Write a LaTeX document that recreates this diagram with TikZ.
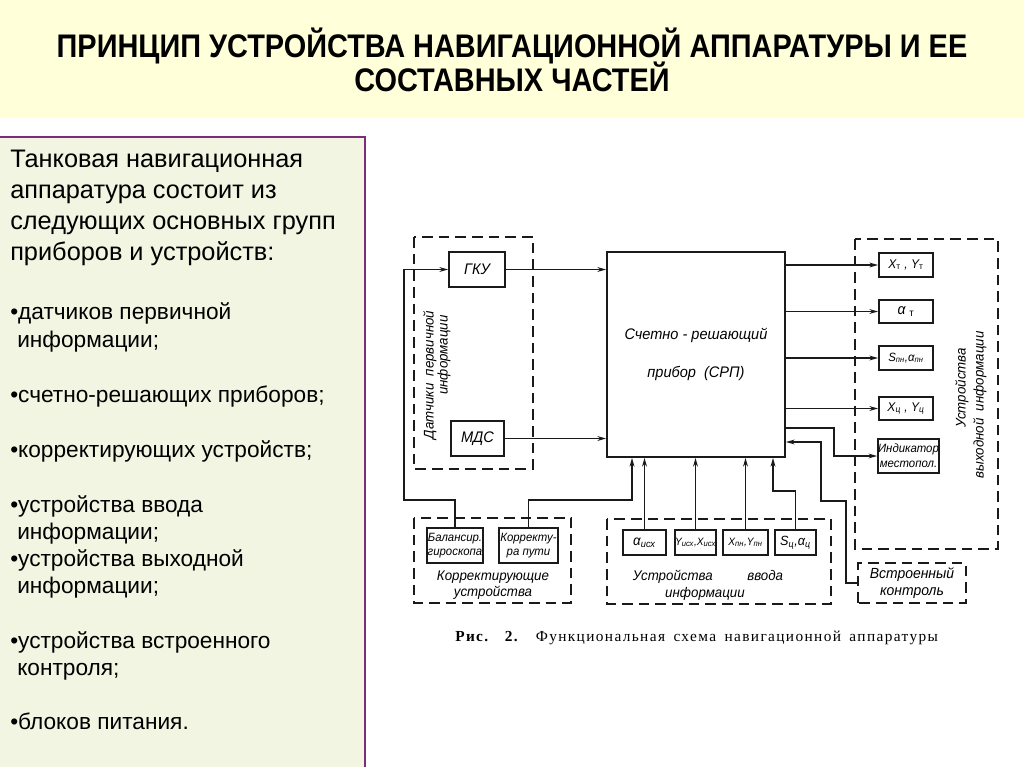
\documentclass[tikz,border=0pt]{standalone}
\usepackage{fontspec}
\setmainfont{Liberation Sans}
\newfontfamily\titlefont[FakeStretch=0.885]{Liberation Sans}
\newfontfamily\dfont[FakeStretch=0.95]{Liberation Sans}
\newfontfamily\capfont[LetterSpace=9]{Liberation Serif}
\usetikzlibrary{arrows.meta}
\definecolor{titlebg}{HTML}{FFFFD9}
\definecolor{panelbg}{HTML}{F1F5E1}
\definecolor{panelborder}{HTML}{7B2C7B}
\definecolor{ink}{HTML}{1A1A1A}
\begin{document}
\begin{tikzpicture}[x=0.75pt,y=-0.75pt,
  ln/.style={draw=ink, line width=1.25pt},
  arr/.style={ln, -{Stealth[length=6.5pt,width=3.6pt]}},
  grp/.style={draw=ink, line width=1.15pt, dash pattern=on 8pt off 4.5pt},
  bx/.style 2 args={draw=ink, line width=1.35pt, fill=white, minimum width=#1*0.75pt,
     minimum height=#2*0.75pt, inner sep=0pt, align=center,
     font=\dfont\itshape\fontsize{8.5}{10}\selectfont},
  lbl/.style={inner sep=0pt, align=center, font=\dfont\itshape\fontsize{10.5}{12}\selectfont},
  lt/.style={anchor=base west, inner sep=0pt, font=\fontsize{19}{22}\selectfont},
  li/.style={anchor=base west, inner sep=0pt, font=\fontsize{17}{20}\selectfont}
]
\useasboundingbox (0,0) rectangle (1024,767);
\fill[white] (0,0) rectangle (1024,767);
% title band
\fill[titlebg] (0,0) rectangle (1024,118);
\node[align=center, inner sep=0pt, font=\titlefont\bfseries\fontsize{24.5}{24}\selectfont] (title) at (512,60)
  {ПРИНЦИП УСТРОЙСТВА НАВИГАЦИОННОЙ АППАРАТУРЫ И ЕЕ\\[-3pt]СОСТАВНЫХ ЧАСТЕЙ};
% left panel
\fill[panelbg] (0,137) rectangle (365,767);
\draw[panelborder, line width=1.5pt] (0,137) -- (365,137) -- (365,767);
\node[lt] (t1) at (10,167) {Танковая навигационная};
\node[lt] (t2) at (10,198) {аппаратура состоит из};
\node[lt] (t3) at (10,229) {следующих основных групп};
\node[lt] (t4) at (10,260) {приборов и устройств:};
\node[li] (t5) at (10,319) {•датчиков первичной};
\node[li] (t6) at (17,347) {информации;};
\node[li] (t7) at (10,402) {•счетно-решающих приборов;};
\node[li] (t8) at (10,457) {•корректирующих устройств;};
\node[li] (t9) at (10,512) {•устройства ввода};
\node[li] (t10) at (17,539) {информации;};
\node[li] (t11) at (10,566) {•устройства выходной};
\node[li] (t12) at (17,593) {информации;};
\node[li] (t13) at (10,648) {•устройства встроенного};
\node[li] (t14) at (17,675) {контроля;};
\node[li] (t15) at (10,729) {•блоков питания.};

% group dashed frames
\draw[grp] (414,237) rectangle (533,469);
\draw[grp] (414,518) rectangle (571,603);
\draw[grp] (607,519) rectangle (831,604);
\draw[grp] (855,239) rectangle (998,549);

% boxes
\node[bx={56}{35}, font=\dfont\itshape\fontsize{11.5}{12}\selectfont] (gku) at (477,269.5) {ГКУ};
\node[bx={53}{35}, font=\dfont\itshape\fontsize{11.5}{12}\selectfont] (mds) at (477.5,438.5) {МДС};
\node[bx={178}{205}, font=\dfont\itshape\fontsize{11.5}{28}\selectfont] (srp) at (696,354.5) {Счетно - решающий\\прибор \ (СРП)};
\node[bx={56}{35}, font=\dfont\itshape\fontsize{9}{11}\selectfont] (bal) at (455,545.5) {Балансир.\\гироскопа};
\node[bx={59}{35}, font=\dfont\itshape\fontsize{9}{11}\selectfont] (kor) at (528.5,545.5) {Корректу-\\ра пути};
\node[bx={43}{25}, font=\dfont\itshape\fontsize{10.5}{11}\selectfont] (ain) at (644.5,542.5) {α\textsubscript{исх}};
\node[bx={41}{25}, font=\dfont\itshape\fontsize{8}{9}\selectfont] (yin) at (695.5,542.5) {Y\textsubscript{исх},X\textsubscript{исх}};
\node[bx={45}{25}, font=\dfont\itshape\fontsize{8}{9}\selectfont] (xpn) at (745.5,542.5) {X\textsubscript{пн},Y\textsubscript{пн}};
\node[bx={41}{25}, font=\dfont\itshape\fontsize{10}{10}\selectfont] (sc) at (795.5,542.5) {S\textsubscript{ц},α\textsubscript{ц}};
\node[bx={54}{24}, font=\dfont\itshape\fontsize{9.5}{10}\selectfont] (xt) at (906,265) {X\textsubscript{\upshape т} , Y\textsubscript{\upshape т}};
\node[bx={54}{23}, font=\dfont\itshape\fontsize{11}{11}\selectfont] (at) at (906,311.5) {α \textsubscript{\upshape т}};
\node[bx={54}{24}, font=\dfont\itshape\fontsize{9}{10}\selectfont] (spn) at (906,358) {S\textsubscript{пн},α\textsubscript{пн}};
\node[bx={54}{23}, font=\dfont\itshape\fontsize{9.5}{10}\selectfont] (xc) at (906,408.5) {X\textsubscript{ц} , Y\textsubscript{ц}};
\node[bx={59}{34}, font=\dfont\itshape\fontsize{9}{11}\selectfont] (ind) at (908.5,456) {Индикатор\\местопол.};
\node[bx={106}{38}, draw=none, fill=none, font=\dfont\itshape\fontsize{11}{13}\selectfont] (vk) at (912,583) {Встроенный\\контроль};
\draw[grp] (vk.south west) rectangle (vk.north east);

% group labels
\node[lbl, rotate=90] (sl1) at (430,375) {Датчики \ первичной};
\node[lbl, rotate=90] (sl2) at (444,355) {информации};
\node[lbl] (kl) at (493,585) {Корректирующие\\устройства};
\node[lbl] (vl1) at (708,577) {Устройства\hspace{26pt}ввода};
\node[lbl] (vl2) at (705,594) {информации};
\node[lbl, rotate=90] (ol1) at (962,388) {Устройства};
\node[lbl, rotate=90] (ol2) at (980,405) {выходной \ информации};

% caption
\node[anchor=base west, inner sep=0pt, font=\capfont\fontsize{11.5}{13}\selectfont] (cap) at (455,641)
  {\makebox[362pt][s]{\textbf{Рис. 2.} Функциональная схема навигационной аппаратуры}};

% connectors
\coordinate (c1) at (404,500);
\coordinate (kin) at (632,500);
\coordinate (sj) at (773,491);
\coordinate (ij) at (834,428);
\coordinate (v1) at (846,501);
\coordinate (v2) at (821,442);
\draw[arr] (bal.north) |- (c1) |- (gku.west);
\draw[arr] (gku.east) -- (gku.east -| srp.west);
\draw[arr] (mds.east) -- (mds.east -| srp.west);
\draw[arr] (kor.north) |- (kin) -- (kin |- srp.south);
\draw[arr] (ain.north) -- (ain.north |- srp.south);
\draw[arr] (yin.north) -- (yin.north |- srp.south);
\draw[arr] (xpn.north) -- (xpn.north |- srp.south);
\draw[arr] (sc.north) |- (sj) -- (sj |- srp.south);
\draw[arr] (srp.east |- xt) -- (xt.west);
\draw[arr] (srp.east |- at) -- (at.west);
\draw[arr] (srp.east |- spn) -- (spn.west);
\draw[arr] (srp.east |- xc) -- (xc.west);
\draw[arr] (srp.east |- ij) -- (ij) |- (ind.west);
\draw[arr] (vk.west) -| (v1) -| (v2) -- (v2 -| srp.east);
\end{tikzpicture}
\end{document}
